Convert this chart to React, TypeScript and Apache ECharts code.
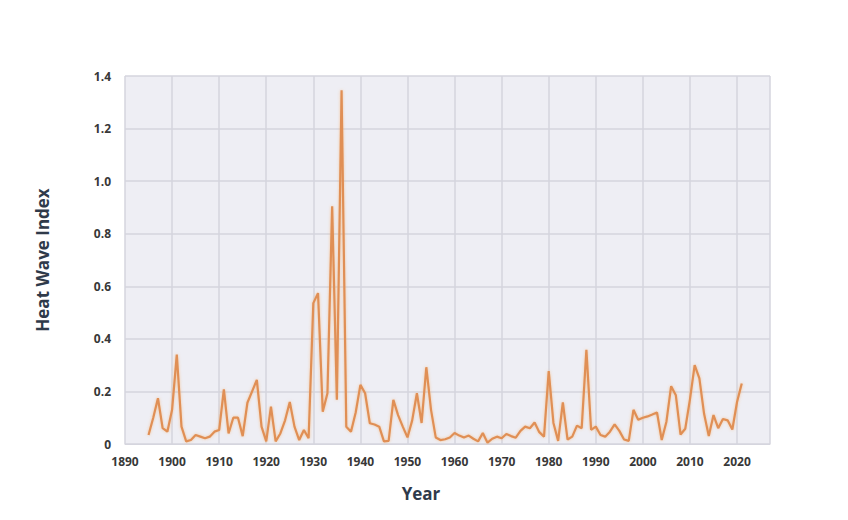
import React, { useEffect, useRef } from "react";
import * as echarts from "echarts";

const years: number[] = [];
for (let y = 1895; y <= 2021; y++) years.push(y);

const heatWaveIndex: number[] = [
  // 1895-1899
  0.034, 0.1, 0.174, 0.06, 0.047,
  // 1900-1909
  0.13, 0.34, 0.066, 0.01, 0.015, 0.034, 0.028, 0.022, 0.028, 0.047,
  // 1910-1919
  0.053, 0.208, 0.04, 0.1, 0.1, 0.03, 0.157, 0.2, 0.244, 0.066,
  // 1920-1929
  0.01, 0.142, 0.01, 0.04, 0.09, 0.16, 0.066, 0.015, 0.053, 0.022,
  // 1930-1939
  0.536, 0.574, 0.123, 0.193, 0.904, 0.168, 1.346, 0.066, 0.047, 0.12,
  // 1940-1949
  0.225, 0.193, 0.079, 0.074, 0.066, 0.01, 0.012, 0.168, 0.11, 0.066,
  // 1950-1959
  0.025, 0.09, 0.193, 0.08, 0.292, 0.13, 0.025, 0.015, 0.018, 0.025,
  // 1960-1969
  0.042, 0.032, 0.025, 0.032, 0.02, 0.01, 0.042, 0.005, 0.02, 0.028,
  // 1970-1979
  0.022, 0.038, 0.03, 0.024, 0.05, 0.066, 0.06, 0.082, 0.045, 0.028,
  // 1980-1989
  0.277, 0.08, 0.012, 0.158, 0.017, 0.028, 0.07, 0.06, 0.358, 0.054,
  // 1990-1999
  0.066, 0.034, 0.028, 0.047, 0.075, 0.05, 0.017, 0.012, 0.13, 0.092,
  // 2000-2009
  0.1, 0.105, 0.112, 0.12, 0.015, 0.085, 0.22, 0.185, 0.036, 0.058,
  // 2010-2019
  0.17, 0.3, 0.25, 0.115, 0.03, 0.11, 0.06, 0.095, 0.09, 0.055,
  // 2020-2021
  0.16, 0.23,
];

const yTicks = [0, 0.2, 0.4, 0.6, 0.8, 1.0, 1.2, 1.4];
const xLabelYears = [1890, 1900, 1910, 1920, 1930, 1940, 1950, 1960, 1970, 1980, 1990, 2000, 2010, 2020];

const FONT = "'Open Sans', 'Noto Sans', sans-serif";
const TEXT = "#383838";
const TITLE = "#2f3a4a";
const GRIDLINE = "#d5d5de";

export default function App() {
  const ref = useRef<HTMLDivElement>(null);
  useEffect(() => {
    if (!ref.current) return;
    const chart = echarts.init(ref.current, null, { renderer: "svg" });
    const data = years.map((y, i) => [y, heatWaveIndex[i]]);
    chart.setOption({
      animation: false,
      backgroundColor: "#ffffff",
      grid: {
        left: 125,
        right: 78,
        top: 76,
        bottom: 76,
        show: true,
        backgroundColor: "#eeeef4",
        borderWidth: 0,
      },
      xAxis: {
        type: "value",
        min: 1890,
        max: 2027,
        interval: 10,
        axisLine: { show: true, lineStyle: { color: GRIDLINE, width: 1 } },
        axisTick: { show: false },
        splitLine: { show: true, lineStyle: { color: GRIDLINE, width: 1.5 } },
        axisLabel: {
          margin: 11,
          fontFamily: FONT,
          fontWeight: "bold",
          fontSize: 12,
          color: TEXT,
          showMaxLabel: true,
          formatter: (v: number) => (xLabelYears.indexOf(v) >= 0 ? String(v) : ""),
        },
      },
      yAxis: {
        type: "value",
        min: yTicks[0],
        max: yTicks[yTicks.length - 1],
        interval: 0.2,
        name: "Heat Wave Index",
        nameLocation: "middle",
        nameGap: 74,
        nameTextStyle: { fontFamily: FONT, fontWeight: "bold", fontSize: 17, color: TITLE },
        axisLine: { show: false },
        axisTick: { show: false },
        splitLine: { show: true, lineStyle: { color: GRIDLINE, width: 1.5 } },
        axisLabel: {
          margin: 14,
          fontFamily: FONT,
          fontWeight: "bold",
          fontSize: 12,
          color: TEXT,
          formatter: (v: number) => (Math.abs(v) < 1e-9 ? "0" : v.toFixed(1)),
        },
      },
      graphic: [
        {
          type: "text",
          x: 421,
          y: 493,
          style: {
            text: "Year",
            fontFamily: FONT,
            fontWeight: "bold",
            fontSize: 17,
            fill: TITLE,
            align: "center",
            verticalAlign: "middle",
          },
        },
      ],
      series: [
        {
          type: "line",
          data,
          showSymbol: false,
          symbol: "none",
          lineStyle: {
            color: "#e08f55",
            width: 2.2,
            shadowColor: "rgba(245,170,100,0.6)",
            shadowBlur: 3,
          },
        },
      ],
    });
    return () => chart.dispose();
  }, []);
  return <div ref={ref} style={{ width: 848, height: 520, position: "absolute", left: 0, top: 0 }} />;
}
